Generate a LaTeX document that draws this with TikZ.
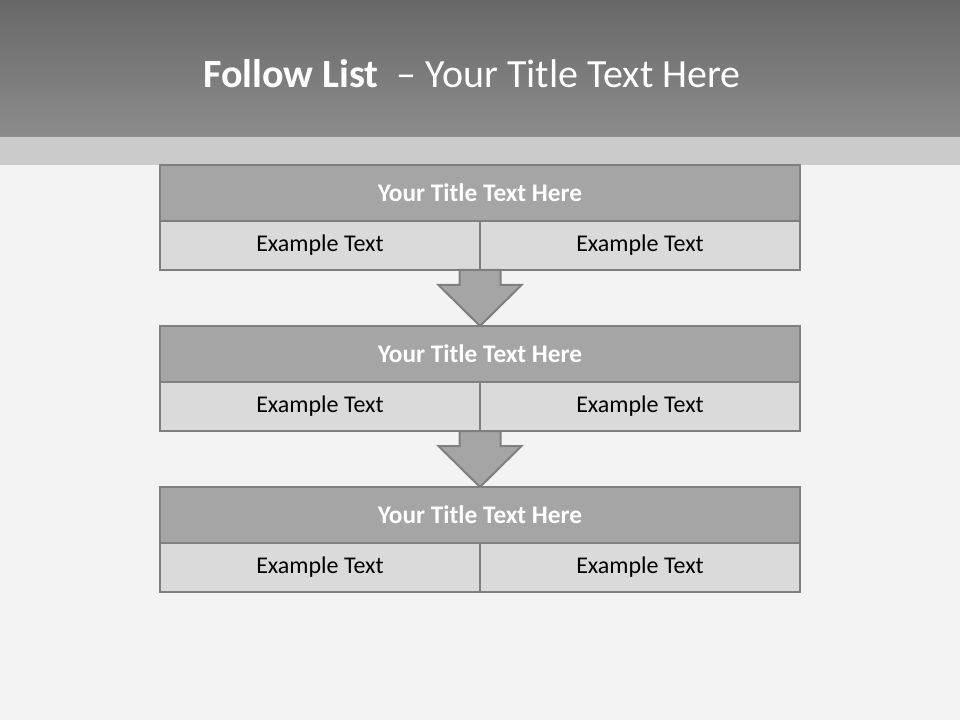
\documentclass[tikz,border=0pt]{standalone}
\usepackage{fontspec}
\setmainfont{Carlito}
\usetikzlibrary{positioning,calc}
\definecolor{bandDark}{HTML}{686868}
\definecolor{bandMid}{HTML}{8C8C8C}
\definecolor{bandLight}{HTML}{CBCBCB}
\definecolor{pageBg}{HTML}{F3F3F3}
\definecolor{rowGray}{HTML}{A5A5A5}
\definecolor{cellGray}{HTML}{DADADA}
\definecolor{edgeGray}{HTML}{7F7F7F}

\begin{document}
\begin{tikzpicture}[x=0.75pt,y=-0.75pt,
  titlerow/.style={rectangle,draw=edgeGray,line width=1.5pt,fill=rowGray,minimum width=480pt,minimum height=42pt,inner sep=0pt,outer sep=0pt,text=white,font=\fontsize{19}{22}\selectfont\bfseries},
  cellbox/.style={rectangle,draw=edgeGray,line width=1.5pt,fill=cellGray,minimum width=240pt,minimum height=36.75pt,inner sep=0pt,outer sep=0pt,text=black,font=\fontsize{18}{21}\selectfont},
  downarrow/.style={draw=edgeGray,line width=1.5pt,fill=rowGray,line join=miter}]
\useasboundingbox (0,0) rectangle (960,720);
% background and header band
\fill[pageBg] (0,0) rectangle (960,720);
\shade[top color=bandDark,bottom color=bandMid] (0,0) rectangle (960,137);
\fill[bandLight] (0,137) rectangle (960,165);
\node[anchor=base west,inner sep=0pt,text=white,font=\fontsize{30}{34}\selectfont] (head) at (203,88) {\textbf{Follow List}\ \ – Your Title Text Here};

% first box
\node[titlerow] (t1) at (480,193) {Your Title Text Here};
\node[cellbox,anchor=north west] (c1l) at (t1.south west) {Example Text};
\node[cellbox,anchor=north east] (c1r) at (t1.south east) {Example Text};
% second box
\node[titlerow] (t2) at (480,354) {Your Title Text Here};
\node[cellbox,anchor=north west] (c2l) at (t2.south west) {Example Text};
\node[cellbox,anchor=north east] (c2r) at (t2.south east) {Example Text};
% third box
\node[titlerow] (t3) at (480,515) {Your Title Text Here};
\node[cellbox,anchor=north west] (c3l) at (t3.south west) {Example Text};
\node[cellbox,anchor=north east] (c3r) at (t3.south east) {Example Text};

% arrows between boxes
\draw[downarrow] ($(c1l.south east)+(-20.5,0)$) -- ++(0,15) -- ++(-21,0) -- (t2.north) -- ($(c1l.south east)+(41.5,15)$) -- ++(-21,0) -- ++(0,-15) -- cycle;
\draw[downarrow] ($(c2l.south east)+(-20.5,0)$) -- ++(0,15) -- ++(-21,0) -- (t3.north) -- ($(c2l.south east)+(41.5,15)$) -- ++(-21,0) -- ++(0,-15) -- cycle;
\end{tikzpicture}
\end{document}
